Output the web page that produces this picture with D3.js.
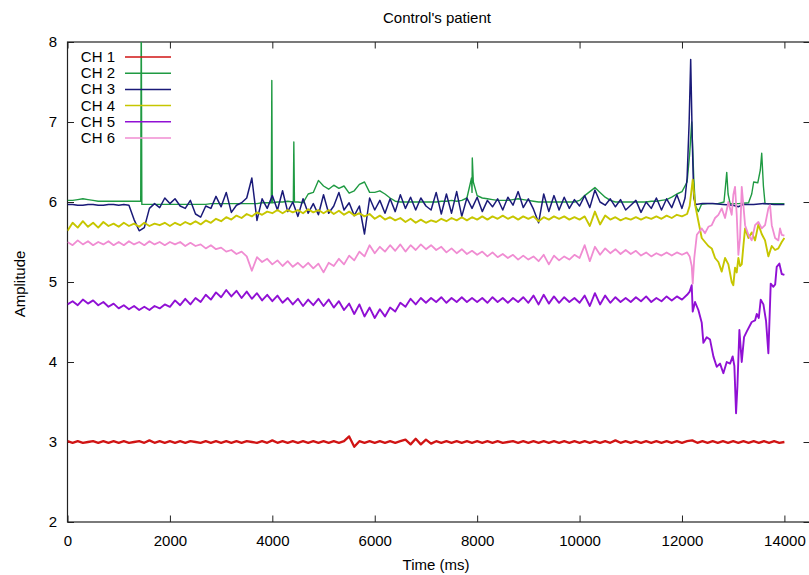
<!DOCTYPE html>
<html><head><meta charset="utf-8">
<script src="https://cdn.jsdelivr.net/npm/d3@7"></script>
<style>body{margin:0;background:#fff} text{font-family:"Liberation Sans",Arial,sans-serif;fill:#000}</style>
</head><body><svg id="c" width="809" height="575"></svg>
<script>
const channelNames = ["CH 1","CH 2","CH 3","CH 4","CH 5","CH 6"];
const xTicks = [0,2000,4000,6000,8000,10000,12000,14000];
const yTicks = [2,3,4,5,6,7,8];
const stepMs = 100;

const ch1Body = [
3.01,2.99,3.01,2.99,3.00,3.01,2.99,3.01,2.99,3.01,
2.99,3.01,2.99,3.00,3.01,2.99,3.02,2.99,3.01,2.99,
3.01,2.99,3.01,2.99,3.01,3.00,2.99,3.01,2.99,3.01,
2.99,3.01,2.99,3.01,2.99,3.01,3.00,2.99,3.01,2.99,
3.02,2.99,3.01,2.99,3.01,2.99,3.01,2.99,3.01,2.99,
3.01,2.99,3.01,2.99,3.01,3.07,2.94,3.01,2.99,3.01,
2.99,3.01,2.99,3.01,2.99,3.01,3.03,2.97,3.04,2.97,
3.03,2.98,3.01,2.99,3.01,2.99,3.01,2.99,3.01,2.99,
3.01,2.99,3.01,2.99,3.01,2.99,3.00,3.01,2.99,3.01,
2.99,3.01,2.99,3.01,2.99,3.01,2.99,3.01,2.99,3.01,
2.99,3.01,2.99,3.01,2.99,3.01,2.99,3.02,2.99,3.01,
2.99,3.01,2.99,3.01,2.99,3.01,2.99,3.01,2.99,3.01,
2.99,3.01,3.02,2.99,3.01,2.99,3.01,2.99,3.01,2.99,
3.01,2.99,3.01,2.99,3.01,2.99,3.01,2.99,3.01,2.99,
3.00];
const ch1Extra = [];
const ch1Tail = [];

const ch2Body = [
6.02,6.02,6.03,6.04,6.03,6.02,6.01,6.01,6.01,6.01,
6.01,6.01,6.01,6.01,6.01,5.97,5.97,5.97,5.97,5.97,
5.97,5.97,5.97,5.97,5.97,5.97,5.97,5.97,5.98,5.98,
5.98,5.98,5.98,5.98,5.98,5.98,5.98,5.98,5.99,5.99,
5.99,6.00,6.00,6.01,6.00,6.00,5.99,6.10,6.12,6.27,
6.20,6.16,6.21,6.17,6.20,6.11,6.14,6.22,6.25,6.12,
6.12,6.14,6.10,6.05,6.01,6.00,6.00,6.00,6.00,6.00,
6.00,6.00,6.00,6.01,6.01,6.02,6.01,6.02,6.05,6.12,
6.08,6.05,6.04,6.03,6.02,6.02,6.02,6.03,6.04,6.03,
6.02,6.01,6.00,6.00,6.00,6.00,6.00,6.00,6.00,6.00,
6.02,6.08,6.13,6.18,6.12,6.06,6.02,6.00,6.00,6.00,
6.00,6.00,6.00,6.00,6.01,6.01,6.02,6.03,6.06,6.10];
const ch2Extra = [[1430,6.01],[1440,8.4],[1452,5.97],[3980,5.99],[3990,7.52],[4002,5.99],
[4410,6.00],[4420,6.75],[4432,6.00],[7890,6.30],[7905,6.55],[7925,6.25]];
const ch2Tail = [[12000,6.13],[12100,6.25],[12150,6.6],[12190,7.0],[12230,6.3],[12260,5.96],[12320,5.88],
[12380,5.97],[12500,5.98],[12700,5.98],[12820,6.0],[12850,6.2],[12874,6.37],[12900,6.1],[12940,5.98],
[13100,5.98],[13300,5.99],[13362,6.1],[13400,6.25],[13480,6.24],[13530,6.4],[13557,6.61],[13590,6.2],
[13622,5.98],[13800,5.98],[14000,5.98]];

const ch3Body = [
5.97,5.97,5.96,5.96,5.97,5.97,5.96,5.96,5.97,5.97,
5.96,5.97,5.96,5.78,5.64,5.68,5.92,5.98,5.93,6.05,
5.98,6.04,5.95,5.92,6.02,5.85,5.81,5.95,5.92,6.07,
5.94,6.12,5.87,5.96,5.99,6.05,6.30,5.77,6.04,5.92,
6.08,5.90,6.14,5.88,6.00,5.82,6.04,5.86,5.98,5.84,
6.09,5.86,5.95,6.12,5.90,5.99,5.83,5.95,5.60,6.05,
5.90,6.02,5.86,6.04,5.88,6.09,5.92,6.06,5.90,6.05,
5.95,5.90,6.12,5.85,6.10,5.86,6.13,5.82,6.05,5.92,
6.06,5.88,6.02,5.94,6.04,5.90,6.06,5.96,6.13,5.93,
6.04,5.91,5.74,6.10,5.88,6.08,5.90,6.06,5.92,6.03,
5.95,6.08,5.93,6.15,6.00,5.96,6.04,5.94,6.03,5.90,
5.96,6.02,5.87,6.00,5.92,6.05,5.90,6.04,5.93,6.09];
const ch3Extra = [];
const ch3Tail = [[12000,5.92],[12060,6.05],[12100,6.3],[12140,7.0],[12170,7.78],[12200,6.8],[12230,6.05],
[12270,5.97],[12400,5.98],[12600,5.98],[12800,5.97],[13000,5.96],[13100,5.94],[13200,5.97],[13400,5.97],
[13600,5.98],[13800,5.97],[14000,5.97]];

const ch4Body = [
5.64,5.74,5.68,5.76,5.69,5.74,5.68,5.75,5.70,5.73,
5.69,5.74,5.70,5.73,5.69,5.74,5.70,5.73,5.71,5.74,
5.70,5.74,5.71,5.75,5.72,5.76,5.72,5.77,5.74,5.79,
5.76,5.81,5.78,5.83,5.80,5.85,5.82,5.87,5.84,5.88,
5.86,5.90,5.86,5.90,5.87,5.90,5.86,5.91,5.87,5.90,
5.86,5.90,5.85,5.89,5.84,5.88,5.83,5.86,5.82,5.85,
5.79,5.83,5.78,5.81,5.77,5.80,5.75,5.79,5.74,5.78,
5.74,5.77,5.75,5.79,5.76,5.80,5.77,5.81,5.77,5.81,
5.78,5.82,5.78,5.82,5.79,5.83,5.79,5.82,5.78,5.82,
5.79,5.82,5.76,5.81,5.78,5.82,5.79,5.82,5.78,5.81,
5.78,5.82,5.70,5.88,5.72,5.83,5.78,5.81,5.77,5.80,
5.78,5.81,5.78,5.81,5.79,5.82,5.79,5.83,5.80,5.84];
const ch4Extra = [];
const ch4Tail = [[12000,5.82],[12100,5.85],[12150,5.95],[12210,6.28],[12255,5.97],[12320,5.76],[12386,5.55],
[12450,5.5],[12515,5.45],[12581,5.42],[12646,5.3],[12711,5.25],[12776,5.13],[12841,5.3],[12906,5.22],
[12971,5.0],[13003,4.96],[13036,5.18],[13069,5.12],[13101,5.3],[13134,5.2],[13167,5.22],[13199,5.45],
[13232,5.67],[13297,5.55],[13362,5.62],[13427,5.52],[13492,5.72],[13557,5.6],[13622,5.52],[13687,5.32],
[13753,5.45],[13818,5.4],[13882,5.42],[13948,5.5],[14000,5.55]];

const ch5Body = [
4.72,4.76,4.71,4.78,4.73,4.77,4.71,4.75,4.69,4.73,
4.67,4.71,4.66,4.70,4.65,4.69,4.65,4.70,4.67,4.72,
4.69,4.77,4.71,4.79,4.72,4.80,4.75,4.84,4.78,4.87,
4.81,4.90,4.82,4.89,4.80,4.88,4.79,4.86,4.77,4.84,
4.76,4.83,4.74,4.80,4.72,4.79,4.70,4.78,4.71,4.79,
4.70,4.78,4.68,4.76,4.65,4.73,4.60,4.72,4.57,4.68,
4.55,4.66,4.57,4.68,4.63,4.74,4.69,4.79,4.72,4.80,
4.74,4.80,4.75,4.81,4.74,4.80,4.75,4.81,4.75,4.80,
4.75,4.80,4.74,4.81,4.75,4.80,4.74,4.80,4.75,4.81,
4.74,4.83,4.72,4.84,4.73,4.82,4.74,4.81,4.75,4.80,
4.74,4.83,4.70,4.86,4.72,4.83,4.74,4.81,4.75,4.80,
4.75,4.81,4.76,4.82,4.75,4.80,4.76,4.82,4.77,4.82];
const ch5Extra = [];
const ch5Tail = [[12000,4.78],[12100,4.84],[12150,4.88],[12190,4.96],[12210,4.63],[12255,4.75],[12320,4.65],
[12386,4.49],[12418,4.24],[12483,4.31],[12548,4.28],[12613,4.07],[12678,3.94],[12743,3.98],[12808,3.86],
[12874,4.0],[12939,3.98],[12990,4.07],[13023,3.95],[13056,3.36],[13082,3.69],[13121,4.4],[13167,4.0],
[13212,4.31],[13264,4.38],[13362,4.5],[13427,4.52],[13460,4.6],[13500,4.55],[13538,4.78],[13590,4.72],
[13642,4.51],[13687,4.11],[13733,4.98],[13785,4.94],[13820,4.97],[13850,5.19],[13902,5.23],[13948,5.1],
[14000,5.09]];

const ch6Body = [
5.50,5.46,5.52,5.47,5.51,5.46,5.50,5.47,5.51,5.46,
5.50,5.46,5.51,5.47,5.50,5.46,5.51,5.47,5.50,5.46,
5.50,5.47,5.50,5.45,5.49,5.45,5.47,5.42,5.46,5.41,
5.43,5.38,5.40,5.35,5.38,5.32,5.14,5.31,5.25,5.29,
5.22,5.27,5.20,5.26,5.19,5.24,5.18,5.24,5.17,5.23,
5.12,5.24,5.20,5.29,5.22,5.33,5.27,5.38,5.32,5.46,
5.36,5.44,5.38,5.46,5.39,5.47,5.38,5.46,5.40,5.47,
5.41,5.46,5.40,5.44,5.37,5.42,5.36,5.41,5.35,5.39,
5.34,5.38,5.32,5.37,5.31,5.35,5.30,5.34,5.28,5.33,
5.28,5.32,5.26,5.34,5.22,5.33,5.27,5.32,5.28,5.34,
5.30,5.46,5.26,5.44,5.34,5.42,5.36,5.41,5.35,5.40,
5.35,5.39,5.33,5.37,5.32,5.36,5.33,5.37,5.33,5.37];
const ch6Extra = [];
const ch6Tail = [[12000,5.34],[12100,5.37],[12150,5.32],[12190,5.2],[12210,4.98],[12240,5.3],[12290,5.59],
[12386,5.67],[12450,5.61],[12515,5.69],[12581,5.71],[12646,5.8],[12711,5.84],[12776,5.92],[12841,5.8],
[12906,6.0],[12971,5.84],[13003,6.09],[13036,6.19],[13069,5.84],[13101,5.34],[13134,5.55],[13167,6.19],
[13199,5.96],[13232,5.71],[13297,5.59],[13362,5.52],[13427,5.71],[13492,5.75],[13557,5.67],[13622,5.71],
[13687,5.92],[13720,5.96],[13753,5.71],[13818,5.55],[13882,5.52],[13915,5.67],[13948,5.59],[14000,5.58]];

const colors = ["#d01414","#1f9a42","#1a1a78","#c6c600","#9010d4","#f08cd2"];
const widths = [2.3,1.4,1.5,1.9,1.9,1.8];

function buildSeries(body, extra, tail) {
  const pts = body.map((v, i) => [i * stepMs, v]).concat(extra, tail);
  return pts.sort((a, b) => a[0] - b[0]);
}
const series = [
  buildSeries(ch1Body, ch1Extra, ch1Tail),
  buildSeries(ch2Body, ch2Extra, ch2Tail),
  buildSeries(ch3Body, ch3Extra, ch3Tail),
  buildSeries(ch4Body, ch4Extra, ch4Tail),
  buildSeries(ch5Body, ch5Extra, ch5Tail),
  buildSeries(ch6Body, ch6Extra, ch6Tail)
];

const L = 67.5, R = 810, T = 42, B = 522;
const svg = d3.select("#c");
const x = d3.scaleLinear().domain([0, 14500]).range([L, R]);
const y = d3.scaleLinear().domain([2, 8]).range([B, T]);
const fs = 15;

svg.append("defs").append("clipPath").attr("id", "clip")
  .append("rect").attr("x", L).attr("y", T).attr("width", R - L).attr("height", B - T);

const axisColor = "#222";
function styleAxis(g, showText) {
  g.select(".domain").remove();
  g.selectAll(".tick line").attr("stroke", axisColor).attr("stroke-width", 1);
  g.selectAll(".tick text").attr("font-size", fs).attr("fill", "#000");
  if (!showText) g.selectAll(".tick text").remove();
}
svg.append("g").attr("transform", `translate(0,${B})`)
  .call(d3.axisBottom(x).tickValues(xTicks).tickFormat(d3.format("d")).tickSize(-6.5).tickPadding(13))
  .call(g => styleAxis(g, true));
svg.append("g").attr("transform", `translate(0,${T})`)
  .call(d3.axisTop(x).tickValues(xTicks).tickSize(-6.5))
  .call(g => styleAxis(g, false));
svg.append("g").attr("transform", `translate(${L},0)`)
  .call(d3.axisLeft(y).tickValues(yTicks).tickFormat(d3.format("d")).tickSize(-6.5).tickPadding(10.5))
  .call(g => styleAxis(g, true));
svg.append("g").attr("transform", `translate(${R},0)`)
  .call(d3.axisRight(y).tickValues(yTicks).tickSize(-6.5))
  .call(g => styleAxis(g, false));

svg.append("rect").attr("x", L).attr("y", T).attr("width", R - L).attr("height", B - T)
  .attr("fill", "none").attr("stroke", axisColor).attr("stroke-width", 1.2);

const line = d3.line().x(d => x(d[0])).y(d => y(d[1]));
const plot = svg.append("g").attr("clip-path", "url(#clip)");
series.forEach((s, i) => {
  plot.append("path").datum(s).attr("d", line).attr("fill", "none")
    .attr("stroke", colors[i]).attr("stroke-width", widths[i]).attr("stroke-linejoin", "round");
});

// legend
const leg = svg.append("g");
channelNames.forEach((n, i) => {
  const cy = 57 + i * 16.2;
  leg.append("text").attr("x", 115).attr("y", cy + 5).attr("text-anchor", "end")
    .attr("font-size", fs).text(n);
  leg.append("line").attr("x1", 125).attr("x2", 171).attr("y1", cy).attr("y2", cy)
    .attr("stroke", colors[i]).attr("stroke-width", 1.5);
});

svg.append("text").attr("x", 437).attr("y", 23).attr("text-anchor", "middle")
  .attr("font-size", fs).text("Control's patient");
svg.append("text").attr("x", 436).attr("y", 570).attr("text-anchor", "middle")
  .attr("font-size", fs).text("Time (ms)");
svg.append("text").attr("transform", "translate(25,284) rotate(-90)").attr("text-anchor", "middle")
  .attr("font-size", fs).text("Amplitude");
</script></body></html>
